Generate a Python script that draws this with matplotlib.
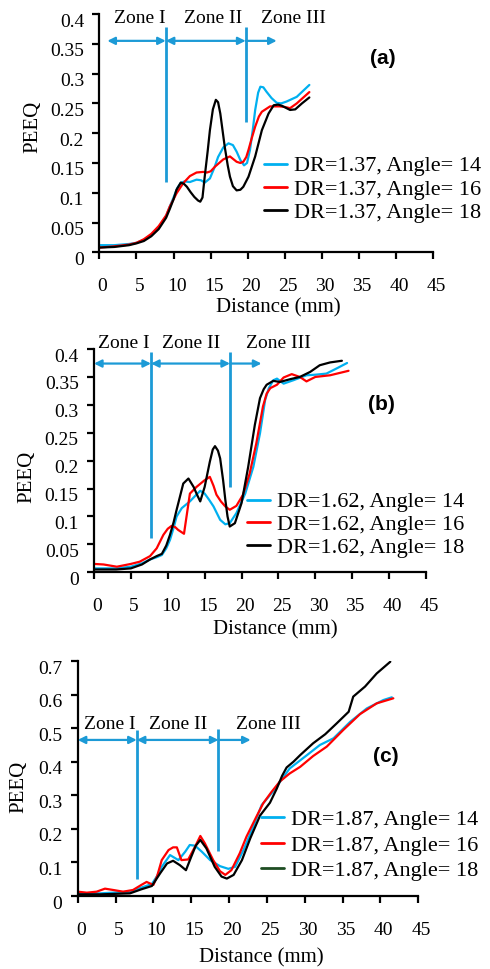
import matplotlib
matplotlib.use("Agg")
import matplotlib.pyplot as plt
from matplotlib.transforms import ScaledTranslation

plt.rcParams['font.family'] = ['Liberation Serif', 'DejaVu Serif']

# ---------------- data ----------------
series_labels_a = ["DR=1.37, Angle= 14", "DR=1.37, Angle= 16", "DR=1.37, Angle= 18"]
series_labels_b = ["DR=1.62, Angle= 14", "DR=1.62, Angle= 16", "DR=1.62, Angle= 18"]
series_labels_c = ["DR=1.87, Angle= 14", "DR=1.87, Angle= 16", "DR=1.87, Angle= 18"]
zone_labels = ["Zone I", "Zone II", "Zone III"]
panel_tags = ["(a)", "(b)", "(c)"]

a_x14 = [0, 2, 4, 5, 6, 7, 8, 9, 9.5, 10, 10.5, 11, 11.5, 12.2, 13.1, 13.7, 14.2, 14.9, 15.5, 16, 16.7,
         17.4, 18, 18.5, 19, 19.5, 19.9, 20.3, 20.7, 21.0, 21.4, 21.7, 22.1, 22.5, 23.2, 23.9, 24.5, 25.2,
         26.6, 28.3]
a_y14 = [0.012, 0.012, 0.014, 0.016, 0.021, 0.029, 0.041, 0.061, 0.077, 0.092, 0.108, 0.117, 0.119, 0.118,
         0.122, 0.121, 0.117, 0.124, 0.142, 0.160, 0.176, 0.183, 0.180, 0.169, 0.155, 0.146, 0.150, 0.172,
         0.208, 0.239, 0.268, 0.278, 0.277, 0.270, 0.259, 0.251, 0.250, 0.253, 0.261, 0.281]
a_x16 = [0, 2, 4, 5, 6, 7, 8, 9, 9.5, 10, 10.4, 11.3, 12.2, 13.1, 14.0, 14.5, 15.0, 15.6, 16.7, 17.6, 18.5,
         19.0, 19.4, 19.8, 20.1, 20.5, 21.0, 21.5, 21.9, 23.0, 24.3, 25.0, 25.7, 26.6, 28.3]
a_y16 = [0.008, 0.010, 0.013, 0.016, 0.022, 0.031, 0.044, 0.062, 0.077, 0.089, 0.099, 0.116, 0.128, 0.134,
         0.135, 0.134, 0.136, 0.144, 0.156, 0.161, 0.152, 0.150, 0.152, 0.160, 0.172, 0.190, 0.211, 0.228,
         0.236, 0.245, 0.245, 0.244, 0.242, 0.250, 0.269]
a_x18 = [0, 2, 4, 5, 6, 7, 8, 9, 9.5, 10, 10.4, 10.97, 11.4, 11.8, 12.3, 12.8, 13.3, 13.6, 13.9, 14.2, 14.6,
         14.9, 15.3, 15.7, 16.0, 16.3, 16.6, 16.9, 17.3, 17.6, 18.0, 18.5, 19.0, 19.4, 20.1, 21.0, 21.9,
         22.8, 23.5, 24.1, 24.6, 25.7, 26.4, 27.3, 28.3]
a_y18 = [0.008, 0.009, 0.012, 0.015, 0.019, 0.027, 0.039, 0.058, 0.073, 0.089, 0.105, 0.117, 0.115, 0.110,
         0.101, 0.093, 0.087, 0.085, 0.092, 0.127, 0.170, 0.205, 0.240, 0.256, 0.252, 0.233, 0.205, 0.177,
         0.146, 0.127, 0.111, 0.104, 0.105, 0.110, 0.127, 0.161, 0.205, 0.233, 0.247, 0.248, 0.246, 0.239,
         0.240, 0.250, 0.260]

b_x14 = [0, 3.1, 5, 6.5, 7.6, 8.5, 9.2, 9.8, 10.3, 10.8, 11.2, 11.9, 13.0, 13.8, 14.4, 15.0, 15.6, 16.2,
         17.1, 17.8, 18.4, 19.3, 20.5, 21.6, 22.5, 23.2, 23.7, 24.3, 24.8, 25.7, 27.0, 28.8, 30.0, 31.5,
         33.0, 34.3]
b_y14 = [0.007, 0.007, 0.010, 0.016, 0.023, 0.027, 0.031, 0.043, 0.058, 0.080, 0.100, 0.115, 0.127, 0.138,
         0.146, 0.141, 0.130, 0.118, 0.094, 0.086, 0.088, 0.106, 0.141, 0.189, 0.249, 0.309, 0.330, 0.344,
         0.347, 0.338, 0.344, 0.353, 0.354, 0.356, 0.366, 0.375]
b_x16 = [0, 1.3, 3.1, 5, 6.2, 7.6, 8.5, 9.4, 10.0, 10.5, 11.0, 11.4, 12.2, 12.6, 13.0, 13.9, 15.0, 15.7,
         16.2, 16.6, 17.2, 17.8, 18.4, 19.3, 20.2, 21.1, 22.0, 22.9, 23.4, 23.9, 24.8, 25.7, 26.8, 27.9,
         28.8, 30.0, 32.0, 34.5]
b_y16 = [0.015, 0.014, 0.010, 0.015, 0.019, 0.029, 0.043, 0.067, 0.078, 0.083, 0.081, 0.076, 0.069, 0.105,
         0.141, 0.153, 0.165, 0.171, 0.155, 0.139, 0.127, 0.118, 0.112, 0.119, 0.139, 0.177, 0.231, 0.297,
         0.320, 0.330, 0.336, 0.349, 0.355, 0.350, 0.342, 0.350, 0.353, 0.361]
b_x18 = [0, 3, 5, 6.5, 7.6, 8.5, 9.2, 9.8, 10.3, 10.8, 11.2, 11.7, 12.1, 12.8, 13.5, 14.0, 14.4, 15.0,
         15.7, 16.1, 16.4, 16.8, 17.1, 17.5, 17.8, 18.1, 18.4, 19.1, 20.0, 20.9, 21.8, 22.5, 23.0, 23.4,
         24.3, 25.2, 26.6, 27.9, 29.3, 30.6, 32.0, 33.6]
b_y18 = [0.005, 0.005, 0.007, 0.014, 0.023, 0.029, 0.033, 0.048, 0.067, 0.090, 0.112, 0.138, 0.159, 0.168,
         0.153, 0.138, 0.127, 0.153, 0.198, 0.220, 0.226, 0.218, 0.204, 0.165, 0.130, 0.100, 0.082, 0.088,
         0.124, 0.189, 0.264, 0.312, 0.328, 0.336, 0.343, 0.341, 0.346, 0.350, 0.359, 0.371, 0.376, 0.379]

c_x14 = [0, 3, 6.9, 8.4, 9.8, 10.5, 11.1, 12.2, 13.3, 14.2, 14.8, 15.5, 16.4, 17.5, 18.8, 19.9, 20.8,
         21.9, 23.2, 24.3, 25.8, 28.0, 30.3, 32.0, 33.8, 36.0, 38.2, 40.4, 41.5]
c_y14 = [0.008, 0.008, 0.013, 0.025, 0.036, 0.060, 0.087, 0.122, 0.107, 0.132, 0.152, 0.150, 0.132, 0.107,
         0.089, 0.081, 0.087, 0.137, 0.207, 0.271, 0.311, 0.380, 0.420, 0.450, 0.470, 0.519, 0.559, 0.584,
         0.592]
c_x16 = [0, 1.2, 2.5, 3.6, 4.7, 6.0, 7.3, 8.4, 9.1, 10.0, 10.5, 11.1, 12.0, 12.6, 13.1, 13.7, 14.6, 15.5,
         16.2, 16.8, 17.9, 18.8, 19.5, 20.3, 21.4, 22.3, 23.6, 24.5, 25.6, 26.7, 28.0, 29.4, 31.1, 32.9,
         35.1, 37.3, 39.5, 41.7]
c_y16 = [0.013, 0.010, 0.013, 0.022, 0.018, 0.013, 0.018, 0.033, 0.042, 0.033, 0.060, 0.107, 0.137, 0.145,
         0.145, 0.107, 0.109, 0.147, 0.179, 0.157, 0.107, 0.074, 0.063, 0.077, 0.127, 0.177, 0.236, 0.276,
         0.310, 0.341, 0.365, 0.385, 0.417, 0.445, 0.495, 0.542, 0.574, 0.589]
c_x18 = [0, 3, 6.9, 8.4, 9.8, 10.9, 11.8, 12.6, 13.5, 14.3, 15.0, 15.6, 16.2, 17.0, 18.1, 19.0, 19.7, 20.6,
         21.7, 22.8, 24.1, 25.4, 26.3, 27.0, 27.6, 28.5, 29.4, 31.1, 32.7, 34.2, 35.8, 36.4, 37.96, 39.5,
         41.3]
c_y18 = [0.005, 0.005, 0.008, 0.020, 0.030, 0.068, 0.097, 0.105, 0.092, 0.077, 0.117, 0.150, 0.167, 0.142,
         0.087, 0.058, 0.052, 0.063, 0.107, 0.172, 0.240, 0.278, 0.320, 0.358, 0.383, 0.400, 0.420, 0.455,
         0.482, 0.514, 0.549, 0.594, 0.624, 0.663, 0.698]

x_ticks = [0, 5, 10, 15, 20, 25, 30, 35, 40, 45]
y_ticks_ab = [0, 0.05, 0.1, 0.15, 0.2, 0.25, 0.3, 0.35, 0.4]
y_tick_labels_ab = ["0", "0.05", "0.1", "0.15", "0.2", "0.25", "0.3", "0.35", "0.4"]
y_ticks_c = [0, 0.1, 0.2, 0.3, 0.4, 0.5, 0.6, 0.7]
y_tick_labels_c = ["0", "0.1", "0.2", "0.3", "0.4", "0.5", "0.6", "0.7"]

# zone boundaries: (arrow start, line1 x, line2 x, zone III arrow end)
zones_a = [1.08, 8.95, 19.7, 23.9]
zones_b = [0.0, 7.73, 18.44, 22.7]
zones_c = [0.0, 7.8, 18.6, 22.85]

# ---------------- style ----------------
C14 = "#00B0F0"
C16 = "#FF0000"
C18 = "#000000"
ZONE = "#1C9AD6"

fig = plt.figure(figsize=(4.9, 9.69), dpi=100)

def setup(ax, xs, ys, labels, ymax, yt, ytl, zones, arrow_y, line_tops, line_bots, text_y, text_x,
          tag_xy, leg_anchor, leg_spacing, ylab_xy, xlab_xy, handle_colors):
    for (x, y), col, lab in zip(zip(xs, ys), [C14, C16, C18], labels):
        ax.plot(x, y, color=col, lw=1.6, label=lab, solid_capstyle='round')
    ax.set_xlim(0, 45)
    ax.set_ylim(0, ymax)
    ax.set_xticks(x_ticks)
    ax.set_xticklabels([str(t) for t in x_ticks])
    ax.set_yticks(yt)
    ax.set_yticklabels(ytl)
    for s in ['top', 'right']:
        ax.spines[s].set_visible(False)
    for s in ['left', 'bottom']:
        ax.spines[s].set_linewidth(1.6)
    ax.tick_params(axis='x', direction='out', length=5, width=1.6, pad=13.5, labelsize=14)
    ax.tick_params(axis='y', direction='out', length=5, width=1.6, pad=6, labelsize=14)
    for lbl in ax.get_yticklabels():
        lbl.set_transform(lbl.get_transform() + ScaledTranslation(0, -0.06, fig.dpi_scale_trans))
    for lbl in ax.get_xticklabels():
        lbl.set_transform(lbl.get_transform() + ScaledTranslation(0.03, 0, fig.dpi_scale_trans))
    ax.set_ylabel("PEEQ", fontsize=15, va='center')
    ax.yaxis.set_label_coords(*ylab_xy)
    ax.set_xlabel("Distance (mm)", fontsize=15, va='center')
    ax.xaxis.set_label_coords(*xlab_xy)

    # zone lines and arrows
    x0, l1, l2, x3 = zones
    ax.plot([l1, l1], [line_bots[0], line_tops[0]], color=ZONE, lw=2.0, solid_capstyle='butt')
    ax.plot([l2, l2], [line_bots[1], line_tops[1]], color=ZONE, lw=2.0, solid_capstyle='butt')
    ap = dict(color=ZONE, lw=1.6, mutation_scale=11, shrinkA=0, shrinkB=0)
    ax.annotate("", xy=(l1, arrow_y), xytext=(x0, arrow_y), arrowprops=dict(arrowstyle='<|-|>', **ap),
                annotation_clip=False)
    ax.annotate("", xy=(l2, arrow_y), xytext=(l1, arrow_y), arrowprops=dict(arrowstyle='<|-|>', **ap),
                annotation_clip=False)
    ax.annotate("", xy=(x3, arrow_y), xytext=(l2, arrow_y), arrowprops=dict(arrowstyle='-|>', **ap),
                annotation_clip=False)
    for zx, zl in zip(text_x, zone_labels):
        ax.text(zx, text_y, zl, fontsize=14, ha='center', va='center', clip_on=False)

    ax.text(tag_xy[0], tag_xy[1], tag_xy[2], fontsize=15, fontweight='bold', ha='center', va='center',
            family=['Liberation Sans', 'DejaVu Sans'])

    leg = ax.legend(loc='upper left', bbox_to_anchor=leg_anchor, frameon=False, fontsize=16,
                    handlelength=1.05, handletextpad=0.28, labelspacing=leg_spacing,
                    borderpad=0, borderaxespad=0)
    for h, c in zip(leg.get_lines(), handle_colors):
        h.set_color(c)
        h.set_linewidth(2.0)
    return ax

# panel (a)
ax_a = fig.add_axes([0.2027, 0.7396, 0.6816, 0.2459])
setup(ax_a, [a_x14, a_x16, a_x18], [a_y14, a_y16, a_y18], series_labels_a, 0.4,
      y_ticks_ab, y_tick_labels_ab, zones_a, 0.355, (0.378, 0.378), (0.1185, 0.218), 0.392,
      [5.48, 15.36, 26.1], (38.2, 0.326, panel_tags[0]), (0.493, 0.405), 0.12,
      (-0.1985, 0.526), (0.535, -0.234), [C14, C16, C18])

# panel (b)
ax_b = fig.add_axes([0.1918, 0.4094, 0.6776, 0.2304])
setup(ax_b, [b_x14, b_x16, b_x18], [b_y14, b_y16, b_y18], series_labels_b, 0.4,
      y_ticks_ab, y_tick_labels_ab, zones_b, 0.374, (0.395, 0.395), (0.061, 0.153), 0.41,
      [4.07, 13.2, 25.0], (38.9, 0.30, panel_tags[1]), (0.461, 0.36), 0.1,
      (-0.203, 0.428), (0.545, -0.258), [C14, C16, C18])

# panel (c)
ax_c = fig.add_axes([0.1586, 0.0753, 0.6951, 0.2425])
setup(ax_c, [c_x14, c_x16, c_x18], [c_y14, c_y16, c_y18], series_labels_c, 0.7,
      y_ticks_c, y_tick_labels_c, zones_c, 0.465, (0.495, 0.497), (0.05, 0.135), 0.511,
      [4.27, 13.3, 25.2], (40.7, 0.415, panel_tags[2]), (0.538, 0.368), 0.22,
      (-0.174, 0.465), (0.540, -0.265), [C14, C16, "#1E4D22"])

fig.savefig("out.png", dpi=100)
